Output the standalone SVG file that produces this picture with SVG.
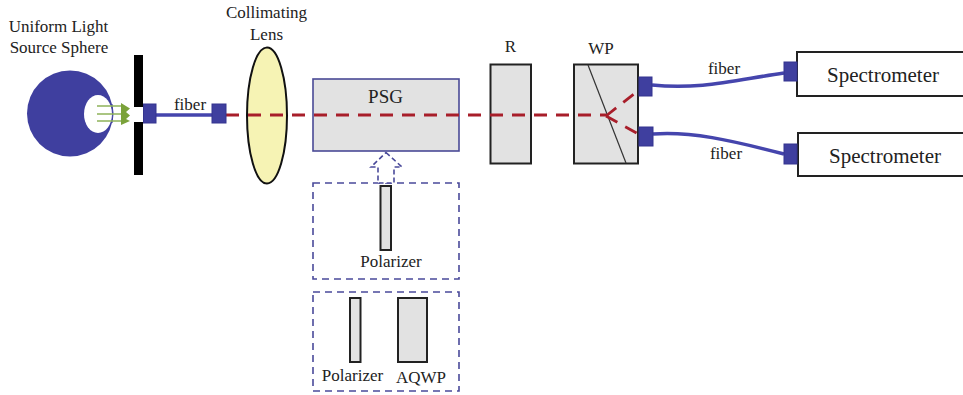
<svg xmlns="http://www.w3.org/2000/svg" width="963" height="395" viewBox="0 0 963 395">
<style>
text{font-family:"Liberation Serif","Times New Roman",serif;fill:#222;text-anchor:middle}
.s17{font-size:17px}
.s19{font-size:19px}
.s21{font-size:21px}
.gray{fill:#e2e2e2;stroke:#222;stroke-width:2}
.port{fill:#3f3f9f;stroke:#35358f;stroke-width:1}
.fib{fill:none;stroke:#4545ad;stroke-width:3.5}
.beam{fill:none;stroke:#a81e2a;stroke-width:2.800;stroke-dasharray:13 9}
.dbox{fill:none;stroke:#4a4a9a;stroke-width:1.600;stroke-dasharray:7 5}
.ray{fill:none;stroke:#8fb35a;stroke-width:1.500}
.box{fill:#fff;stroke:#222;stroke-width:2}
</style>
<g id="source-sphere">
<circle cx="70" cy="113.500" r="43" fill="#3f3f9f"/>
<ellipse cx="98" cy="114" rx="14" ry="19" fill="#fff"/>
<path d="M112 104A43 43 0 0 1 112 123" fill="none" stroke="#3f3f9f" stroke-width="1"/>
<text class="s17" x="58.500" y="32">Uniform Light</text>
<text class="s17" x="59" y="53">Source Sphere</text>
</g>
<g id="barrier">
<rect x="134" y="55" width="9" height="52" fill="#000"/>
<rect x="134" y="122" width="9" height="53" fill="#000"/>
</g>
<g id="lens">
<ellipse cx="267" cy="115.500" rx="20" ry="68" fill="#f6f3b4" stroke="#111" stroke-width="2"/>
<text class="s17" x="266.500" y="18">Collimating</text>
<text class="s17" x="266.500" y="40">Lens</text>
</g>
<g id="psg">
<rect x="313" y="79" width="146" height="72" fill="#e2e2e2" stroke="#4a4a96" stroke-width="1.600"/>
<text class="s19" x="385.500" y="103">PSG</text>
</g>
<g id="option-polarizer">
<rect class="dbox" x="313" y="183" width="146" height="96"/>
<rect class="gray" x="380.500" y="186" width="10.500" height="64"/>
<text class="s17" x="391" y="267">Polarizer</text>
</g>
<g id="option-polarizer-aqwp">
<rect class="dbox" x="313" y="292" width="146" height="99"/>
<rect class="gray" x="350" y="298" width="10.500" height="64"/>
<rect class="gray" x="398" y="298" width="29" height="64"/>
<text class="s17" x="352.500" y="381">Polarizer</text>
<text class="s17" x="421" y="383">AQWP</text>
</g>
<g id="r">
<rect class="gray" x="490.500" y="64.500" width="40.500" height="99"/>
<text class="s17" x="510.500" y="52">R</text>
</g>
<g id="wp">
<rect class="gray" x="574" y="64.500" width="64" height="99"/>
<line x1="588" y1="65" x2="626" y2="163" stroke="#333" stroke-width="1.200"/>
<text class="s17" x="601" y="54">WP</text>
</g>
<g id="spectrometer-1">
<rect class="box" x="797" y="52" width="168" height="44"/>
<text class="s21" x="883" y="82">Spectrometer</text>
</g>
<g id="spectrometer-2">
<rect class="box" x="798" y="133" width="167" height="43"/>
<text class="s21" x="885" y="163">Spectrometer</text>
</g>
<g id="connectors">
<path class="ray" d="M97 106H122M97 114H122M97 121H122"/>
<path d="M121 103L130 108.500L126 112L130 115.500L126 119L130 121L121 125Z" fill="#7ba23a"/>
<path class="fib" d="M156 115H212"/>
<path class="fib" d="M652 85C700 90 735 80 784 73"/>
<path class="fib" d="M653 134C690 131 730 140 784 154"/>
<path class="beam" d="M226 115H606"/>
<path class="beam" d="M606 116L639 90"/>
<path class="beam" d="M606 116L640 135"/>
<path d="M386 152.500L402 167H394V183H378V167H371Z" fill="#fff" stroke="#4a4a9a" stroke-width="1.600" stroke-dasharray="5 3"/>
<rect class="port" x="143.500" y="104" width="12.500" height="19"/>
<rect class="port" x="212" y="104" width="14" height="19"/>
<rect class="port" x="639" y="77" width="13" height="19"/>
<rect class="port" x="639" y="127" width="14" height="19"/>
<rect class="port" x="784" y="62" width="13" height="19"/>
<rect class="port" x="784" y="144" width="13" height="20"/>
</g>
<text class="s17" x="190" y="110">fiber</text>
<text class="s17" x="724" y="74">fiber</text>
<text class="s17" x="726" y="159">fiber</text>
</svg>
